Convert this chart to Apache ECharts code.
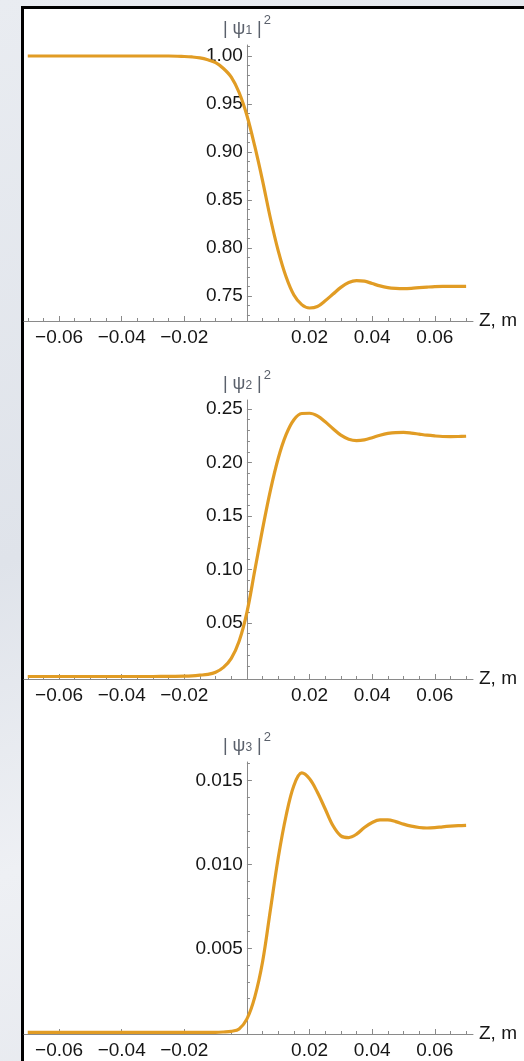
<!DOCTYPE html>
<html>
<head>
<meta charset="utf-8">
<title>Level populations along Z</title>
<script src="https://cdn.jsdelivr.net/npm/echarts@6/dist/echarts.min.js"></script>
<style>
  html, body { margin: 0; padding: 0; width: 524px; height: 1061px; overflow: hidden; }
  body { background: linear-gradient(160deg, #e9ecf1 0%, #dfe3ea 45%, #eef0f4 70%, #e3e6ec 100%); position: relative; }
  #panel { position: absolute; left: 21px; top: 6px; width: 600px; height: 1100px; background: #fff; border: 3px solid #000; box-sizing: border-box; }
  #chart { position: absolute; left: 0; top: 0; width: 524px; height: 1061px; }
</style>
</head>
<body>
<div id="panel"></div>
<div id="chart"></div>
<script>
// Coordinate along the beam, m
const zValues = [-0.07, -0.06, -0.05, -0.04, -0.03, -0.025, -0.02, -0.0175, -0.015, -0.0125, -0.01,
  -0.0075, -0.005, -0.0025, 0, 0.0025, 0.005, 0.0075, 0.01, 0.0125, 0.015, 0.0175, 0.02, 0.0225,
  0.025, 0.0275, 0.03, 0.0325, 0.035, 0.0375, 0.04, 0.0425, 0.045, 0.0475, 0.05, 0.0525, 0.055,
  0.0575, 0.06, 0.0625, 0.065, 0.0675, 0.07];

// |psi_1|^2
const psi1 = [1.0, 1.0, 1.0, 1.0, 1.0, 1.0, 0.9995, 0.999, 0.998, 0.996, 0.993,
  0.987, 0.978, 0.962, 0.938, 0.906, 0.870, 0.831, 0.797, 0.770, 0.751, 0.741, 0.7375, 0.739,
  0.745, 0.752, 0.759, 0.764, 0.766, 0.7655, 0.763, 0.7605, 0.7588, 0.758, 0.7577, 0.758, 0.7587,
  0.7593, 0.7598, 0.760, 0.760, 0.760, 0.760];

// |psi_2|^2
const psi2 = [0, 0, 0, 0, 0, 0.0001, 0.0003, 0.0006, 0.0012, 0.002, 0.004,
  0.0085, 0.017, 0.033, 0.060, 0.099, 0.138, 0.174, 0.204, 0.226, 0.2400, 0.2458, 0.2460, 0.2435,
  0.238, 0.2315, 0.2255, 0.2218, 0.2205, 0.2212, 0.2232, 0.2255, 0.2272, 0.228, 0.2281, 0.2275, 0.2265,
  0.2255, 0.2248, 0.2243, 0.2242, 0.2243, 0.2245];

// |psi_3|^2
const psi3 = [0, 0, 0, 0, 0, 0, 0, 0, 0, 0, 0,
  0.00002, 0.00006, 0.0002, 0.0008, 0.0021, 0.0042, 0.0073, 0.0104, 0.0129, 0.0147, 0.01545, 0.0151, 0.0143,
  0.0133, 0.0123, 0.0117, 0.0116, 0.0118, 0.0122, 0.01250, 0.01265, 0.01265, 0.01255, 0.01240, 0.01228, 0.01220,
  0.01217, 0.01219, 0.01224, 0.01228, 0.01231, 0.01233];

// Tick values
const zMajorTicks = [-0.06, -0.04, -0.02, 0.02, 0.04, 0.06];
const psi1Ticks = [0.75, 0.80, 0.85, 0.90, 0.95, 1.00];
const psi2Ticks = [0.05, 0.10, 0.15, 0.20, 0.25];
const psi3Ticks = [0.005, 0.010, 0.015];

function steps(from, to, step, skipEvery) {
  const out = [];
  const n = Math.round((to - from) / step);
  for (let i = 0; i <= n; i++) {
    const k = Math.round(from / step) + i;
    if (skipEvery && k % skipEvery === 0) continue;
    out.push(+(k * step).toFixed(6));
  }
  return out;
}
const zMinorTicks = steps(-0.07, 0.07, 0.005, 4);
const psi1Minor = steps(0.73, 1.01, 0.01, 5);
const psi2Minor = steps(0.01, 0.25, 0.01, 5);
const psi3Minor = steps(0.001, 0.016, 0.001, 5);

const LINE = '#e19c24';
const AXIS = '#8a8a8a';
const LABEL = '#161616';
const TITLE = '#5a606b';
const FONT = '"Liberation Sans", Arial, sans-serif';
const minus = s => s.replace('-', '\u2212');

const panels = [
  { name: '1', data: psi1, top: 45, bottom: 321, ymin: 0.72396, ymax: 1.01146, ticks: psi1Ticks, minor: psi1Minor, digits: 2 },
  { name: '2', data: psi2, top: 400, bottom: 679, ymin: -0.00234, ymax: 0.2584, ticks: psi2Ticks, minor: psi2Minor, digits: 2 },
  { name: '3', data: psi3, top: 762, bottom: 1034, ymin: -0.0001, ymax: 0.0161, ticks: psi3Ticks, minor: psi3Minor, digits: 3 }
];

const H = 1061;
const GRID_LEFT = 24;
const grid = [], xAxis = [], yAxis = [], series = [];
panels.forEach((p, i) => {
  grid.push({ left: GRID_LEFT, right: 51, top: p.top, bottom: H - p.bottom, containLabel: false, outerBoundsMode: 'none' });
  // main horizontal axis: line, labels, major ticks
  xAxis.push({
    type: 'value', gridIndex: i, min: -0.0712, max: 0.0722, position: 'bottom',
    splitLine: { show: false },
    axisLine: { onZero: false, lineStyle: { color: AXIS, width: 1 } },
    axisTick: { inside: true, length: 5, lineStyle: { color: AXIS }, customValues: zMajorTicks },
    axisLabel: { margin: 7, color: LABEL, fontSize: 19, fontFamily: FONT, customValues: zMajorTicks,
      formatter: v => minus(v.toFixed(2)) },
    name: 'Z, m', nameLocation: 'end', nameGap: 6,
    nameTextStyle: { color: LABEL, fontSize: 19, fontFamily: FONT }
  });
  // minor ticks
  xAxis.push({
    type: 'value', gridIndex: i, min: -0.0712, max: 0.0722, position: 'bottom',
    splitLine: { show: false },
    axisLine: { show: false, onZero: false },
    axisTick: { inside: true, length: 3, lineStyle: { color: AXIS }, customValues: zMinorTicks },
    axisLabel: { show: false }
  });
  yAxis.push({
    type: 'value', gridIndex: i, min: p.ymin, max: p.ymax, position: 'left',
    splitLine: { show: false },
    axisLine: { onZero: false, lineStyle: { color: AXIS, width: 1 } },
    axisTick: { inside: true, length: 5, lineStyle: { color: AXIS }, customValues: p.ticks },
    axisLabel: { margin: 4, color: LABEL, fontSize: 19, fontFamily: FONT, customValues: p.ticks,
      formatter: v => v.toFixed(p.digits) },
    name: '{t|| ψ}{s|' + p.name + '}{t| |}{p|2}', nameLocation: 'end', nameGap: 7,
    nameTextStyle: {
      rich: {
        t: { color: TITLE, fontSize: 18, fontFamily: FONT, lineHeight: 24, verticalAlign: 'bottom' },
        s: { color: TITLE, fontSize: 12, fontFamily: FONT, lineHeight: 24, verticalAlign: 'bottom', padding: [0, 0, 1, 0] },
        p: { color: TITLE, fontSize: 13, fontFamily: FONT, lineHeight: 24, verticalAlign: 'top', padding: [0, 0, 0, 2] }
      }
    }
  });
  yAxis.push({
    type: 'value', gridIndex: i, min: p.ymin, max: p.ymax, position: 'left',
    splitLine: { show: false },
    axisLine: { show: false, onZero: false },
    axisTick: { inside: true, length: 3, lineStyle: { color: AXIS }, customValues: p.minor },
    axisLabel: { show: false }
  });
  series.push({
    type: 'line', xAxisIndex: 2 * i, yAxisIndex: 2 * i,
    data: zValues.map((z, k) => [z, p.data[k]]),
    smooth: 0.35, showSymbol: false, clip: false,
    lineStyle: { color: LINE, width: 3.2 }
  });
});

const chart = echarts.init(document.getElementById('chart'), null, { renderer: 'canvas' });
chart.setOption({ animation: false, backgroundColor: 'transparent', grid, xAxis, yAxis, series });

// Move each vertical axis (line, ticks, labels, name) onto Z = 0 of its panel
const shifted = panels.map((p, i) => {
  const x0 = chart.convertToPixel({ xAxisIndex: 2 * i }, 0);
  const off = -(x0 - GRID_LEFT);
  return [{ offset: off }, { offset: off }];
}).flat();
chart.setOption({ yAxis: shifted });
</script>
</body>
</html>
